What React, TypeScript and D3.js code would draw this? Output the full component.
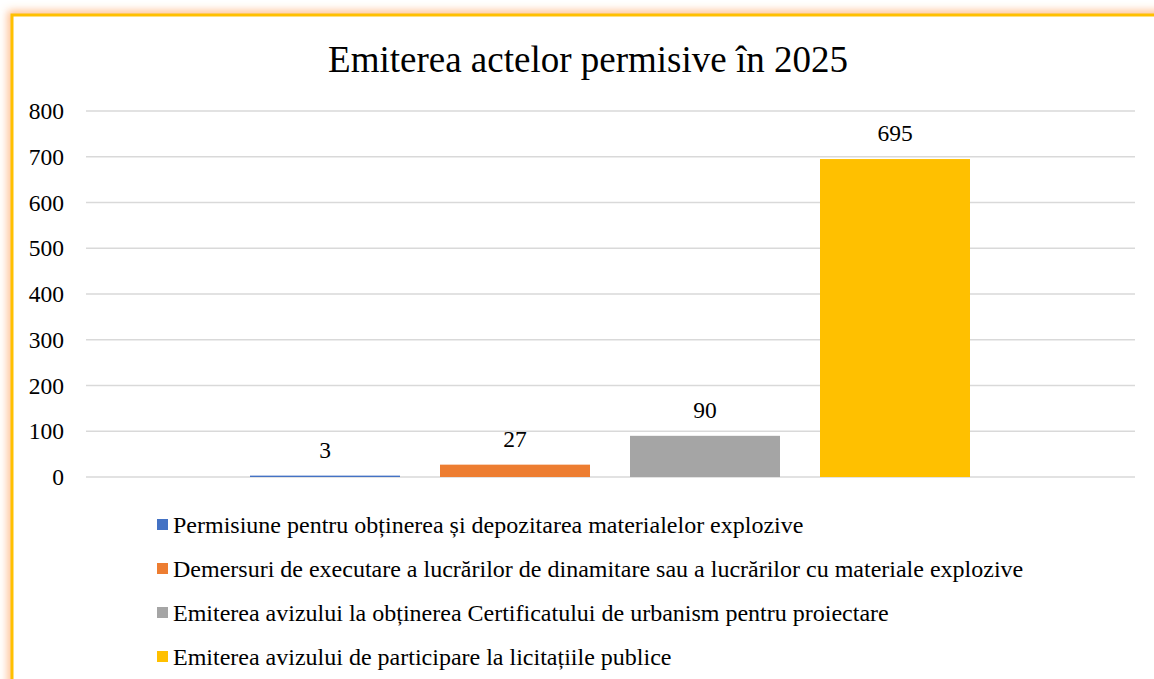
import React from "react";
import * as d3 from "d3";

const title = "Emiterea actelor permisive în 2025";
const seriesNames = [
  "Permisiune pentru obținerea și depozitarea materialelor explozive",
  "Demersuri de executare a lucrărilor de dinamitare sau a lucrărilor cu materiale explozive",
  "Emiterea avizului la obținerea Certificatului de urbanism pentru proiectare",
  "Emiterea avizului de participare la licitațiile publice",
];
const seriesValues = [3, 27, 90, 695];
const seriesColors = ["#4472C4", "#ED7D31", "#A5A5A5", "#FFC000"];
const yTicks = [0, 100, 200, 300, 400, 500, 600, 700, 800];

const W = 1154;
const H = 679;

export default function App() {
  const plotLeft = 86;
  const plotRight = 1135;
  const y = d3.scaleLinear().domain([0, 800]).range([477, 111]);
  const x = d3
    .scaleBand<number>()
    .domain(d3.range(seriesValues.length))
    .range([250, 970])
    .paddingInner(40 / 190)
    .paddingOuter(0);

  return (
    <svg
      width={W}
      height={H}
      style={{ position: "absolute", left: 0, top: 0, background: "#fff" }}
    >
      <defs>
        <filter id="glow" x="-10%" y="-10%" width="120%" height="120%">
          <feGaussianBlur stdDeviation="4" />
        </filter>
      </defs>
      <rect x={0} y={0} width={W} height={H} fill="#fff" />
      <rect
        x={12}
        y={15}
        width={W + 40}
        height={H + 40}
        fill="none"
        stroke="#FF9A50"
        strokeOpacity={0.7}
        strokeWidth={8}
        filter="url(#glow)"
      />
      <rect x={12} y={15} width={W + 40} height={H + 40} fill="#fff" />
      <rect
        x={12}
        y={15}
        width={W + 40}
        height={H + 40}
        fill="none"
        stroke="#FFC000"
        strokeWidth={3}
      />
      <g style={{ fontFamily: "'Liberation Serif', 'Times New Roman', Times, serif" }}>
        <text x={588} y={72} textAnchor="middle" fontSize={37} fill="#000">
          {title}
        </text>
        {yTicks.map((t) => (
          <g key={t}>
            <line
              x1={plotLeft}
              x2={plotRight}
              y1={y(t)}
              y2={y(t)}
              stroke="#D9D9D9"
              strokeWidth={1.5}
            />
            <text x={64} y={y(t) + 8} textAnchor="end" fontSize={23.5} fill="#000">
              {t}
            </text>
          </g>
        ))}
        {seriesValues.map((v, i) => (
          <g key={i}>
            <rect
              x={x(i)}
              y={y(v)}
              width={x.bandwidth()}
              height={y(0) - y(v)}
              fill={seriesColors[i]}
            />
            <text
              x={(x(i) as number) + x.bandwidth() / 2}
              y={y(v) - 18}
              textAnchor="middle"
              fontSize={23.5}
              fill="#000"
            >
              {v}
            </text>
          </g>
        ))}
        {seriesNames.map((n, i) => {
          const ly = 525 + i * 44;
          return (
            <g key={n}>
              <rect x={157} y={ly - 6} width={11} height={11} fill={seriesColors[i]} />
              <text x={173} y={ly + 8} fontSize={24} fill="#000">
                {n}
              </text>
            </g>
          );
        })}
      </g>
    </svg>
  );
}
